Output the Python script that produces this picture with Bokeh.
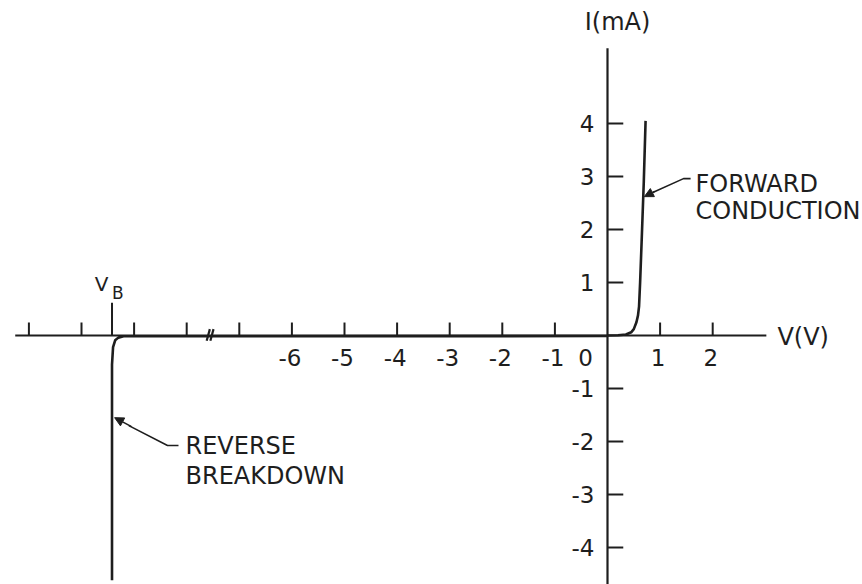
from bokeh.plotting import figure
from bokeh.models import Range1d, Arrow, NormalHead
from bokeh.core.properties import value
from bokeh.embed import file_html
from bokeh.resources import INLINE

# Diode I-V characteristic (volts, milliamps).
# Left of the axis break the horizontal scale is compressed, so values there
# are axis positions rather than true volts.
fwd_v = [0.0, 0.20, 0.35, 0.45, 0.50, 0.55, 0.58, 0.60, 0.62, 0.65, 0.69, 0.724]
fwd_i = [0.0, 0.005, 0.02, 0.06, 0.12, 0.25, 0.38, 0.55, 1.0, 1.8, 2.9, 4.05]

v_b = -9.42
rev_v = [0.0, -9.20, -9.30, -9.36, -9.40, v_b, v_b]
rev_i = [-0.01, -0.015, -0.04, -0.09, -0.22, -0.55, -4.62]

# axis ticks
x_ticks_labeled = [-6, -5, -4, -3, -2, -1, 1, 2]
x_tick_labels = ["-6", "-5", "-4", "-3", "-2", "-1", "1", "2"]
x_ticks_plain = [-11, -10, -9, -8, -7]
x_break = -7.55
y_ticks = [-4, -3, -2, -1, 1, 2, 3, 4]
y_tick_labels = ["-4", "-3", "-2", "-1", "1", "2", "3", "4"]

INK = "#1e1e1e"
FONT = value("DejaVu Sans")
FS_NUM = "23px"
FS_TXT = "24px"

p = figure(width=862, height=584, output_backend="svg", toolbar_location=None,
           x_range=Range1d(-11.54, 4.848), y_range=Range1d(-4.698, 6.321),
           min_border=0, outline_line_color=None, background_fill_color="white",
           border_fill_color="white")
p.xaxis.visible = False
p.yaxis.visible = False
p.grid.visible = False

# axes drawn through the origin
p.line(x=[-11.26, 3.02], y=[0, 0], line_color=INK, line_width=2.2)
p.line(x=[0, 0], y=[-4.75, 5.42], line_color=INK, line_width=2.2)

# x ticks point upward from the axis
xt = x_ticks_plain + x_ticks_labeled
p.segment(x0=xt, y0=[0] * len(xt), x1=xt, y1=[0.245] * len(xt),
          line_color=INK, line_width=2)
# taller tick marking the breakdown voltage
p.segment(x0=[v_b], y0=[0], x1=[v_b], y1=[0.62], line_color=INK, line_width=2)
# y ticks point right of the axis
p.segment(x0=[0] * len(y_ticks), y0=y_ticks, x1=[0.30] * len(y_ticks), y1=y_ticks,
          line_color=INK, line_width=2)

# axis break mark: two short slanted strokes across the axis
p.segment(x0=[x_break - 0.07, x_break + 0.0], y0=[-0.10, -0.10],
          x1=[x_break - 0.01, x_break + 0.06], y1=[0.12, 0.12],
          line_color=INK, line_width=2.2)

# tick labels
p.text(x=x_ticks_labeled, y=[0] * len(x_ticks_labeled), text=x_tick_labels,
       x_offset=-2, y_offset=22, text_align="center", text_baseline="middle",
       text_font=FONT, text_font_size=FS_NUM, text_color=INK)
p.text(x=[0], y=[0], text=["0"], x_offset=-22, y_offset=22,
       text_align="center", text_baseline="middle",
       text_font=FONT, text_font_size=FS_NUM, text_color=INK)
p.text(x=[0] * len(y_ticks), y=y_ticks, text=y_tick_labels, x_offset=-13,
       text_align="right", text_baseline="middle",
       text_font=FONT, text_font_size=FS_NUM, text_color=INK)

# axis titles
p.text(x=[0.19], y=[5.906], text=["I(mA)"], text_align="center", text_baseline="middle",
       text_font=FONT, text_font_size=FS_TXT, text_color=INK)
p.text(x=[3.23], y=[-0.02], text=["V(V)"], text_align="left", text_baseline="middle",
       text_font=FONT, text_font_size=FS_TXT, text_color=INK)

# V_B label with subscript
p.text(x=[-9.62], y=[0.97], text=["V"], text_align="center", text_baseline="middle",
       text_font=FONT, text_font_size="20px", text_color=INK)
p.text(x=[-9.31], y=[0.81], text=["B"], text_align="center", text_baseline="middle",
       text_font=FONT, text_font_size="17px", text_color=INK)

# characteristic curves
p.line(x=fwd_v, y=fwd_i, line_color=INK, line_width=2.6, line_join="round")
p.line(x=rev_v, y=rev_i, line_color=INK, line_width=2.6, line_join="round")

# callouts
fwd_lead_x = [1.58, 1.445, 0.86]
fwd_lead_y = [2.96, 2.96, 2.70]
p.line(x=fwd_lead_x, y=fwd_lead_y, line_color=INK, line_width=1.6)
p.add_layout(Arrow(end=NormalHead(size=9, fill_color=INK, line_color=INK),
                   x_start=0.90, y_start=2.72, x_end=0.70, y_end=2.62,
                   line_color=INK, line_width=1.6))
p.text(x=[1.673, 1.673], y=[2.868, 2.358], text=["FORWARD", "CONDUCTION"],
       text_align="left", text_baseline="middle",
       text_font=FONT, text_font_size=FS_TXT, text_color=INK)

rev_lead_x = [-8.156, -8.365, -9.10]
rev_lead_y = [-2.075, -2.075, -1.70]
p.line(x=rev_lead_x, y=rev_lead_y, line_color=INK, line_width=1.6)
p.add_layout(Arrow(end=NormalHead(size=9, fill_color=INK, line_color=INK),
                   x_start=-9.05, y_start=-1.72, x_end=-9.37, y_end=-1.55,
                   line_color=INK, line_width=1.6))
p.text(x=[-8.023, -8.023], y=[-2.094, -2.66], text=["REVERSE", "BREAKDOWN"],
       text_align="left", text_baseline="middle",
       text_font=FONT, text_font_size=FS_TXT, text_color=INK)

open("out.html", "w").write(file_html(p, INLINE))
